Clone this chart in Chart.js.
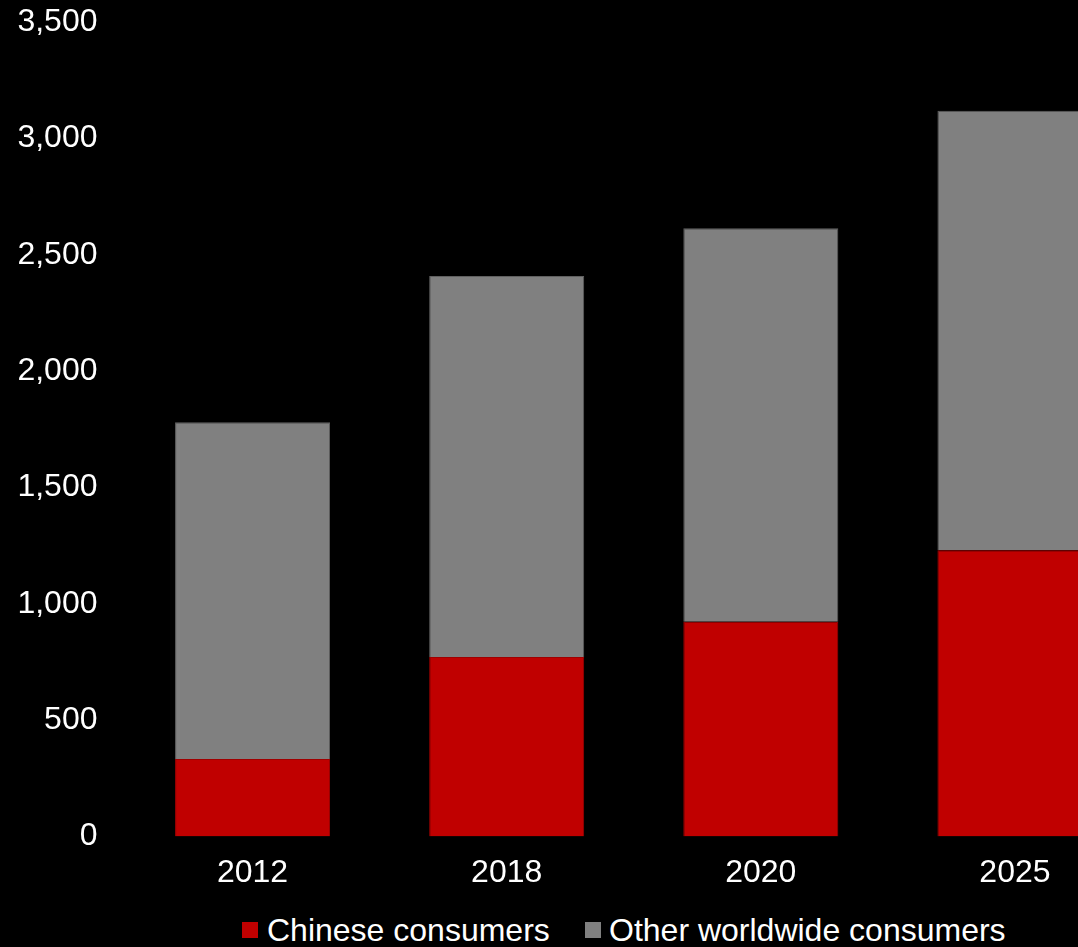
<!DOCTYPE html>
<html>
<head>
<meta charset="utf-8">
<script src="https://cdn.jsdelivr.net/npm/chart.js@4"></script>
<style>
    body { margin: 0; background: #000; overflow: hidden; width: 1078px; height: 947px; position: relative; }
    #wrap { position: absolute; left: 0; top: 0; width: 1142px; height: 900px; }
    .legend { position: absolute; top: 909px; left: 0; font-family: "Liberation Sans", Arial, sans-serif; font-size: 32px; color: #fff; white-space: nowrap; }
    .item { position: absolute; top: 0; height: 42px; line-height: 42px; }
    .box { position: absolute; top: 13px; width: 16px; height: 16px; }
    .txt { position: absolute; top: 0; }
</style>
</head>
<body>
<div id="wrap"><canvas id="grafica"></canvas></div>
<div class="legend">
    <div class="item" style="left:242px"><span class="box" style="left:0;background:#c00000"></span><span class="txt" style="left:25px">Chinese consumers</span></div>
    <div class="item" style="left:585px"><span class="box" style="left:0;background:#808080"></span><span class="txt" style="left:24px">Other worldwide consumers</span></div>
</div>
<script>
// Datos (millones de consumidores)
const anios = ['2012', '2018', '2020', '2025'];
const chinos = [333, 771, 923, 1230];
const otros = [1447, 1638, 1691, 1889];
const ticksY = [0, 500, 1000, 1500, 2000, 2500, 3000, 3500];

const fuente = { family: '"Liberation Sans", Arial, sans-serif', size: 32 };

const generarGrafica = () => {
    const ctx = document.getElementById('grafica').getContext('2d');
    new Chart(ctx, {
        type: 'bar',
        data: {
            labels: anios,
            datasets: [{
                label: 'Chinese consumers',
                data: chinos,
                backgroundColor: '#c00000',
                borderColor: '#a00000',
                borderWidth: 1,
                categoryPercentage: 1,
                barPercentage: 0.61
            }, {
                label: 'Other worldwide consumers',
                data: otros,
                backgroundColor: '#808080',
                borderColor: '#606060',
                borderWidth: 1,
                categoryPercentage: 1,
                barPercentage: 0.61
            }]
        },
        options: {
            responsive: true,
            maintainAspectRatio: false,
            animation: false,
            layout: { padding: 0 },
            plugins: { legend: { display: false }, tooltip: { enabled: false } },
            scales: {
                x: {
                    stacked: true,
                    grid: { display: false, drawTicks: false },
                    border: { display: false },
                    ticks: { color: '#fff', font: fuente, padding: 17 },
                    afterFit: (scale) => { scale.height = 63.5; }
                },
                y: {
                    stacked: true,
                    min: 0,
                    max: 3500,
                    grid: { display: false, drawTicks: false },
                    border: { display: false },
                    afterBuildTicks: (scale) => { scale.ticks = ticksY.map(v => ({ value: v })); },
                    ticks: {
                        color: '#fff',
                        font: fuente,
                        padding: 28,
                        callback: (v) => v.toLocaleString('en-US')
                    },
                    afterFit: (scale) => {
                        // ancho fijo del eje y espacio arriba para la etiqueta 3,500
                        scale.width = 125.5;
                        scale.paddingTop = 22;
                        scale.paddingBottom = 0;
                    }
                }
            }
        }
    });
};

generarGrafica();
</script>
</body>
</html>
